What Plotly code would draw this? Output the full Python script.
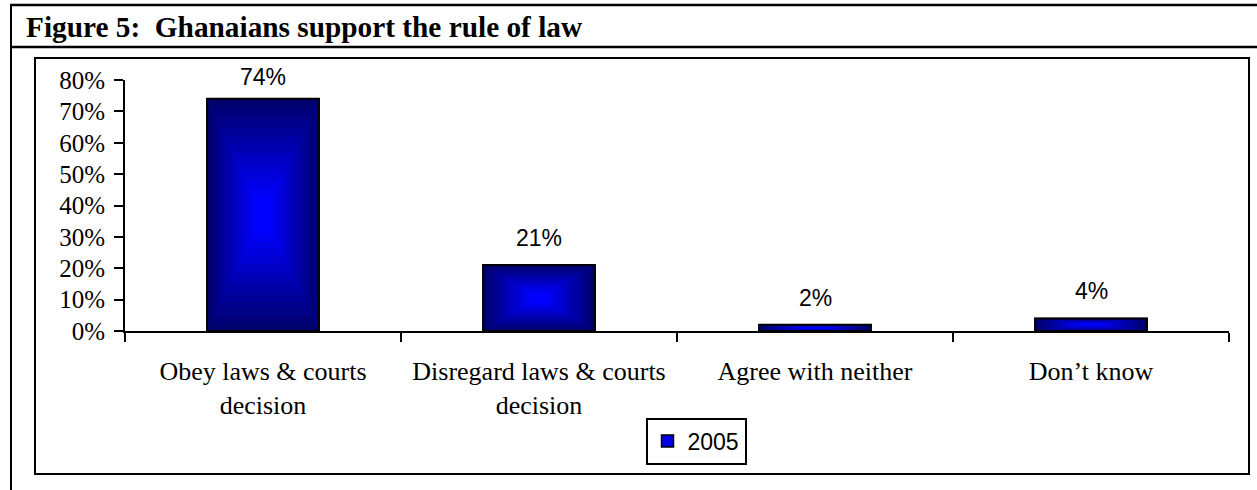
import plotly.graph_objects as go

# ---- data ----
categories = ["Obey laws & courts decision", "Disregard laws & courts decision",
              "Agree with neither", "Don\u2019t know"]
tick_labels = ["Obey laws & courts<br>decision", "Disregard laws & courts<br>decision",
               "Agree with neither", "Don\u2019t know"]
values_2005 = [0.74, 0.21, 0.02, 0.04]
series_name = "2005"
y_ticks = [0.0, 0.1, 0.2, 0.3, 0.4, 0.5, 0.6, 0.7, 0.8]
title_text = "Figure 5:\u00a0 Ghanaians support the rule of law"

W, H = 1257, 490
ML, MR, MT, MB = 125, 28, 80, 159
PW, PH = W - ML - MR, H - MT - MB


def px(x):
    return (x - ML) / PW


def py(y):
    return (H - MB - y) / PH


SERIF = "Liberation Serif, Times New Roman, serif"
SANS = "Liberation Sans, Arial, sans-serif"

fig = go.Figure()

BAR_W = 0.405

# legend-carrying series (covered by the gradient layers below)
fig.add_trace(go.Bar(
    x=categories, y=values_2005, width=BAR_W, name=series_name, showlegend=True,
    marker=dict(color="rgb(0,0,230)", line=dict(color="black", width=1.5)),
    hoverinfo="skip",
))

N = 14
dark = (0, 0, 110)
bright = (0, 0, 255)
for k in range(N):
    t = k / (N - 1)
    col = "rgb(%d,%d,%d)" % tuple(int(dark[i] + (bright[i] - dark[i]) * t) for i in range(3))
    f = k / N * 0.9
    bases = [v * f / 2 for v in values_2005]
    heights = [v * (1 - f) for v in values_2005]
    fig.add_trace(go.Bar(
        x=categories, y=heights, base=bases, width=BAR_W * (1 - f),
        name=series_name, showlegend=False,
        marker=dict(color=col, line=dict(width=0)),
        hoverinfo="skip",
    ))

# outline on top
fig.add_trace(go.Bar(
    x=categories, y=values_2005, width=BAR_W, showlegend=False, name=series_name,
    marker=dict(color="rgba(0,0,0,0)", line=dict(color="black", width=2)),
    hovertemplate="%{x}: %{y:.0%}<extra></extra>",
))

annotations = []
for c, v in zip(categories, values_2005):
    annotations.append(dict(
        x=c, y=v, xref="x", yref="y", text="%d%%" % round(v * 100),
        showarrow=False, yanchor="bottom", yshift=12 if v < 0.7 else 7,
        font=dict(family=SANS, size=23, color="black"),
    ))

annotations.append(dict(
    x=px(24), y=py(27), xref="paper", yref="paper", text="<b>" + title_text + "</b>",
    showarrow=False, xanchor="left", yanchor="middle",
    font=dict(family=SERIF, size=29.3, color="black"),
))

shapes = [
    # outer frame
    dict(type="line", xref="paper", yref="paper", x0=px(11), x1=px(11), y0=py(4), y1=py(495),
         line=dict(color="black", width=2)),
    dict(type="line", xref="paper", yref="paper", x0=px(10), x1=px(1260), y0=py(5), y1=py(5),
         line=dict(color="black", width=2.5)),
    dict(type="line", xref="paper", yref="paper", x0=px(10), x1=px(1260), y0=py(47), y1=py(47),
         line=dict(color="black", width=2.5)),
    # inner chart box
    dict(type="rect", xref="paper", yref="paper", x0=px(35), x1=px(1249), y0=py(474), y1=py(58),
         line=dict(color="black", width=2)),
]

fig.update_layout(
    width=W, height=H,
    margin=dict(l=ML, r=MR, t=MT, b=MB, pad=0),
    paper_bgcolor="white", plot_bgcolor="white",
    barmode="overlay",
    showlegend=True,
    legend=dict(
        x=px(696), y=py(441), xanchor="center", yanchor="middle",
        orientation="h", bgcolor="white", bordercolor="black", borderwidth=2,
        font=dict(family=SANS, size=23, color="black"),
        itemwidth=30,
    ),
    annotations=annotations,
    shapes=shapes,
    xaxis=dict(
        type="category", categoryorder="array", categoryarray=categories,
        tickmode="array", tickvals=categories, ticktext=tick_labels,
        range=[-0.5, 3.5], tickson="boundaries",
        ticks="outside", ticklen=9, tickwidth=2, tickcolor="black",
        showline=True, linewidth=2, linecolor="black", showgrid=False,
        tickfont=dict(family=SERIF, size=26, color="black"),
        ticklabelstandoff=16,
        fixedrange=True,
    ),
    yaxis=dict(
        range=[0, 0.8], tickmode="array", tickvals=y_ticks, tickformat=".0%",
        ticks="outside", ticklen=9, tickwidth=2, tickcolor="black",
        showline=True, linewidth=2, linecolor="black", showgrid=False, zeroline=False,
        tickfont=dict(family=SERIF, size=25, color="black"),
        ticklabelstandoff=4,
        fixedrange=True,
    ),
)

fig.write_html("out.html", config={"displayModeBar": False},
               post_script="document.body.style.margin='0px';document.body.style.padding='0px';")
